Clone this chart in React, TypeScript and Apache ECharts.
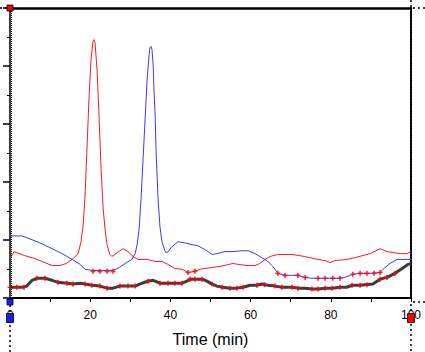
import React, { useEffect, useRef } from "react";
import * as echarts from "echarts";

// x in minutes, y in relative intensity (0..100 axis, unlabeled)
const xAxisTicks = [0, 20, 40, 60, 80, 100];

const baselineTrace: [number, number][] = [
  [0, 3.7], [3.0, 3.7], [4.2, 4.1], [5.5, 6.1], [6.7, 6.8], [8.7, 6.8], [10.5, 6.1], [12.0, 5.4],
  [14.2, 5.1], [15.7, 4.8], [17.5, 5.1], [18.7, 4.8], [20.4, 4.4], [22.4, 4.1], [24.2, 3.4], [25.7, 3.4],
  [27.4, 4.1], [29.4, 4.1], [31.2, 4.1], [32.9, 5.1], [34.4, 5.8], [35.7, 6.1], [37.4, 5.1], [39.4, 5.1],
  [41.1, 5.1], [42.9, 5.1], [44.1, 5.8], [44.9, 6.5], [46.1, 6.5], [47.9, 6.5], [49.1, 5.8], [50.4, 4.8],
  [51.6, 4.1], [52.9, 3.7], [54.9, 3.4], [56.6, 3.4], [58.1, 3.7], [59.9, 4.4], [61.6, 4.4], [62.8, 4.8],
  [64.3, 4.4], [66.1, 4.1], [67.8, 3.7], [70.3, 3.7], [71.8, 3.4], [73.6, 3.4], [75.3, 3.1], [76.8, 3.1],
  [78.6, 3.4], [80.3, 3.4], [82.3, 3.7], [84.0, 3.7], [85.3, 4.4], [87.3, 4.4], [90.5, 4.8], [92.3, 6.5],
  [94.0, 7.1], [96.0, 8.5], [97.8, 10.2], [99.3, 11.6], [100, 11.9],
];

const baselineMarks: [number, number][] = [
  [0, 3.7], [1.7, 3.7], [3.5, 3.7], [6.7, 6.8], [8.7, 6.8], [12.0, 5.4], [14.2, 5.1], [15.7, 4.8],
  [18.7, 4.8], [20.4, 4.4], [22.4, 4.1], [24.2, 3.4], [27.4, 4.1], [29.4, 4.1], [31.2, 4.1],
  [34.4, 5.8], [37.4, 5.1], [39.4, 5.1], [41.1, 5.1], [42.9, 5.1], [44.9, 6.5], [46.1, 6.5],
  [47.9, 6.5], [50.4, 4.8], [52.9, 3.7], [54.9, 3.4], [56.6, 3.4], [58.1, 3.7], [61.6, 4.4],
  [63.5, 4.6], [66.1, 4.1], [67.8, 3.7], [70.3, 3.7], [71.8, 3.4], [75.3, 3.1], [76.8, 3.1],
  [78.6, 3.4], [80.3, 3.4], [82.3, 3.7], [85.3, 4.4], [87.3, 4.4], [89.0, 4.6], [92.3, 6.5],
  [94.0, 7.1], [96.0, 8.5],
];

const redTrace: [number, number][] = [
  [0, 13.6], [1.0, 16.0], [3.7, 14.6], [6.2, 13.6], [8.7, 12.2], [10.5, 11.2], [12.5, 11.2], [14.0, 11.9],
  [15.5, 13.3], [17.0, 15.3], [17.7, 19.4], [18.2, 24.5], [18.7, 34.7], [19.2, 51.7], [19.7, 68.7],
  [20.2, 82.3], [20.7, 88.4], [20.9, 89.1], [21.2, 88.1], [21.7, 78.9], [22.2, 62.9], [22.7, 44.9],
  [23.2, 31.3], [23.7, 23.8], [24.2, 18.4], [24.9, 15.0], [25.4, 14.3], [26.7, 15.6], [28.2, 17.0],
  [29.4, 16.0], [30.7, 14.3], [31.9, 13.3], [34.2, 13.3], [36.2, 12.6], [37.9, 12.6], [39.4, 11.6],
  [41.1, 10.2], [42.9, 9.9], [44.4, 8.8], [46.1, 9.2], [47.4, 9.9], [48.6, 10.2], [50.4, 10.5],
  [52.4, 10.9], [55.6, 11.9], [56.9, 11.6], [59.1, 11.2], [61.1, 11.2], [62.3, 11.9], [63.6, 13.3],
  [64.8, 14.3], [66.8, 15.0], [70.3, 15.0], [72.3, 14.6], [74.8, 13.9], [76.8, 13.3], [78.6, 12.9],
  [79.8, 12.2], [81.0, 12.9], [84.0, 13.3], [86.0, 13.9], [89.8, 15.3], [92.3, 17.0], [94.0, 16.0],
  [97.3, 15.3], [99.0, 15.3], [100, 16.0],
];

const blueTrace: [number, number][] = [
  [0, 21.4], [3.0, 21.4], [5.5, 20.1], [8.0, 18.7], [10.5, 17.0], [13.0, 15.3], [15.5, 13.3], [17.5, 11.6],
  [18.7, 9.9], [20.4, 9.5], [22.9, 9.5], [25.7, 9.5], [26.9, 10.2], [28.7, 11.9], [30.4, 13.3],
  [31.2, 15.3], [31.7, 18.4], [32.2, 23.8], [32.7, 34.7], [33.2, 48.3], [33.7, 61.9], [34.2, 75.5],
  [34.7, 84.0], [34.9, 86.4], [35.2, 86.7], [35.4, 85.7], [35.7, 80.6], [35.9, 72.1], [36.2, 62.9],
  [36.4, 51.7], [36.9, 34.7], [37.4, 24.5], [37.9, 19.4], [38.7, 16.0], [39.2, 15.6], [40.4, 17.7],
  [41.9, 19.4], [43.6, 19.0], [45.4, 18.4], [46.9, 18.0], [48.6, 16.7], [50.4, 15.0], [51.6, 15.3],
  [53.6, 16.0], [55.6, 16.0], [57.9, 16.3], [59.4, 16.3], [61.1, 15.3], [62.8, 13.9], [64.1, 12.9],
  [65.3, 11.2], [66.1, 9.9], [66.8, 8.5], [68.6, 7.8], [70.3, 7.8], [71.8, 7.8], [73.6, 7.1],
  [75.3, 6.8], [76.8, 6.8], [78.6, 6.8], [80.5, 6.8], [82.3, 6.8], [83.5, 7.1], [85.5, 8.2],
  [87.3, 8.5], [89.8, 8.5], [92.3, 8.8], [93.0, 9.9], [94.8, 11.9], [96.5, 13.3], [100, 13.3],
];

const crossMarks: [number, number][] = [
  [20.7, 9.2], [22.4, 9.2], [24.2, 9.2], [25.7, 9.2],
  [44.4, 8.8], [46.1, 9.2],
  [66.8, 8.5], [68.6, 7.8], [71.8, 7.8], [73.6, 7.1], [76.8, 6.8],
  [78.6, 6.8], [80.5, 6.8], [82.3, 6.8], [85.5, 8.2], [87.3, 8.5], [89.0, 8.5],
  [90.8, 8.5], [92.3, 8.8],
];

const PLUS = "path://M2,0H4V2H6V4H4V6H2V4H0V2H2Z";
const FONT = "'Liberation Sans', Arial, sans-serif";

export default function App() {
  const ref = useRef<HTMLDivElement>(null);
  useEffect(() => {
    document.body.style.margin = "0";
    const chart = echarts.init(ref.current!, null, { renderer: "svg" });
    const dot = (x1: number, y1: number, x2: number, y2: number, dash = [2, 3], w = 1.5) => ({
      type: "line",
      shape: { x1, y1, x2, y2 },
      style: { stroke: "#000", lineWidth: w, lineDash: dash },
      z: 50,
      silent: true,
    });
    const sq = (x: number, y: number, w: number, h: number, fill: string) => ({
      type: "rect",
      shape: { x, y, width: w, height: h },
      style: { fill, stroke: "#000", lineWidth: 0.8 },
      z: 100,
      silent: true,
    });
    chart.setOption({
      animation: false,
      backgroundColor: "#fff",
      grid: { left: 10, right: 14, top: 8, bottom: 50, containLabel: false },
      xAxis: [
        {
          type: "value",
          min: 0,
          max: 100,
          interval: 10,
          position: "bottom",
          axisLine: { show: true, onZero: false, lineStyle: { color: "#000", width: 2 } },
          axisTick: { show: true, length: 4, lineStyle: { color: "#000", width: 1 } },
          axisLabel: {
            color: "#000",
            fontSize: 12,
            fontFamily: FONT,
            margin: 11,
            formatter: (v: number) => (xAxisTicks.includes(v) ? String(v) : ""),
          },
          splitLine: { show: false },
          name: "Time (min)",
          nameLocation: "middle",
          nameGap: 33,
          nameTextStyle: { color: "#000", fontSize: 16, fontFamily: FONT },
        },
        {
          type: "value",
          min: 0,
          max: 100,
          position: "top",
          axisLine: { show: true, onZero: false, lineStyle: { color: "#000", width: 2.5 } },
          axisTick: { show: false },
          axisLabel: { show: false },
          splitLine: { show: false },
        },
      ],
      yAxis: [
        {
          type: "value",
          min: 0,
          max: 100,
          interval: 20,
          position: "left",
          axisLine: { show: true, onZero: false, lineStyle: { color: "#000", width: 1.5 } },
          axisTick: { show: true, length: 7, lineStyle: { color: "#000", width: 1.5 } },
          minorTick: { show: true, splitNumber: 2, length: 3, lineStyle: { color: "#000", width: 1 } },
          axisLabel: { show: false },
          splitLine: { show: false },
        },
        {
          type: "value",
          min: 0,
          max: 100,
          position: "right",
          axisLine: { show: true, onZero: false, lineStyle: { color: "#000", width: 2, type: [2, 1] } },
          axisTick: { show: false },
          axisLabel: { show: false },
          splitLine: { show: false },
        },
      ],
      series: [
        {
          type: "line",
          data: baselineTrace,
          showSymbol: false,
          symbol: "none",
          lineStyle: { color: "#3c3c3c", width: 3 },
          z: 2,
        },
        {
          type: "scatter",
          data: baselineMarks,
          symbol: PLUS,
          symbolSize: 5,
          itemStyle: { color: "#ff0000" },
          z: 3,
        },
        {
          type: "line",
          data: redTrace,
          showSymbol: false,
          symbol: "none",
          lineStyle: { color: "#ff1a1a", width: 1 },
          z: 4,
        },
        {
          type: "line",
          data: blueTrace,
          showSymbol: false,
          symbol: "none",
          lineStyle: { color: "#3a3aff", width: 1 },
          z: 5,
        },
        {
          type: "scatter",
          data: crossMarks,
          symbol: PLUS,
          symbolSize: 5,
          itemStyle: { color: "#ff0000" },
          z: 6,
        },
      ],
      graphic: [
        dot(11.5, 9, 11.5, 301, [1, 1], 1),
        dot(10, 305, 10, 352),
        dot(411, 0, 411, 7),
        dot(411, 304, 411, 352),
        dot(0, 8, 7, 8),
        dot(413, 8, 425, 8),
        dot(413, 302, 425, 302),
        sq(7, 5, 6, 6, "#ff0000"),
        sq(7, 299, 6, 6, "#1a1aff"),
        sq(6.5, 313.5, 7, 9, "#1a1aff"),
        sq(407.5, 313.5, 7, 9, "#ff0000"),
      ],
    });
    return () => chart.dispose();
  }, []);
  return <div ref={ref} style={{ width: 425, height: 352 }} />;
}
